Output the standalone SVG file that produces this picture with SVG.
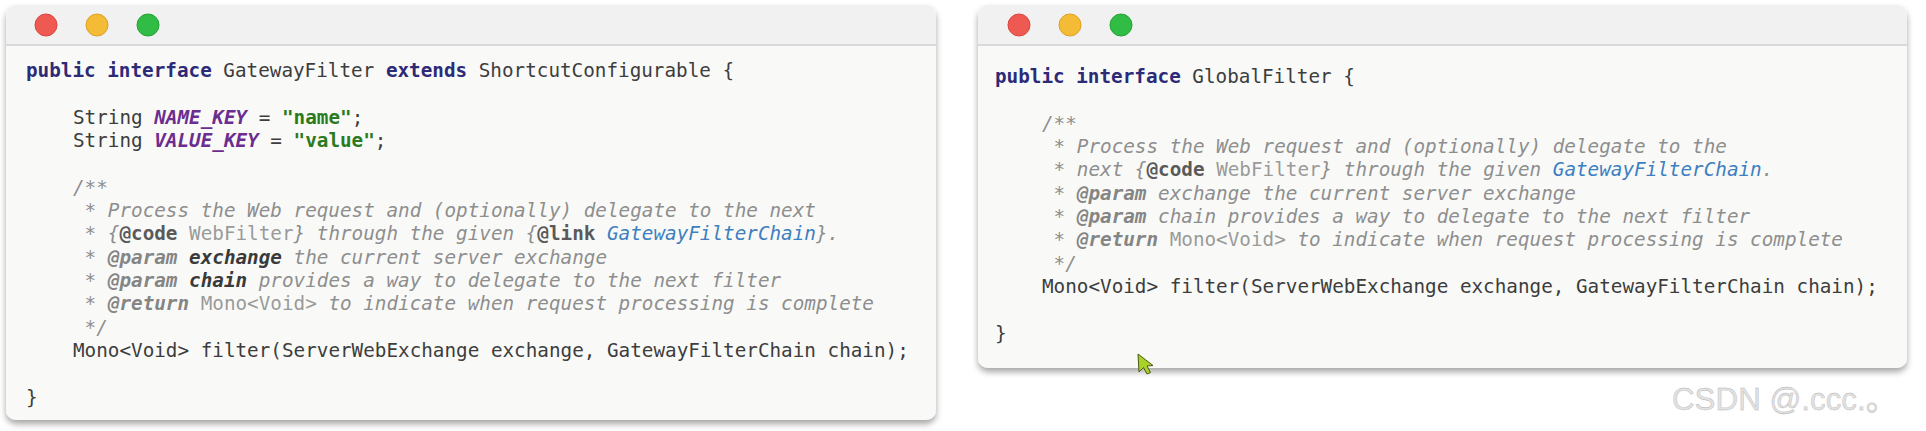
<svg xmlns="http://www.w3.org/2000/svg" width="1926" height="431" viewBox="0 0 1926 431" xml:space="preserve">
<defs>
<style>
.code{font-family:"DejaVu Sans Mono","Liberation Mono",monospace;font-size:19.3px;fill:#3d3d3d;white-space:pre}
.kw{fill:#2d2a78;font-weight:bold}
.cst{fill:#6b2d8f;font-weight:bold;font-style:italic}
.str{fill:#2c7a1e;font-weight:bold}
.cm{fill:#8e8e8e;font-style:italic}
.tag{font-weight:bold;fill:#858585}
.tagd{font-weight:bold;fill:#5a5a5a;font-style:normal}
.pb{font-weight:bold;fill:#3a3a3a}
.up{font-style:normal;fill:#9a9a9a}
.lnk{fill:#3d7fc0}
.body{fill:#f9faf8}
.bar{fill:#f1f1f1}
.sep{stroke:#d9d9d9;stroke-width:2}
.red{fill:#ee5a52;stroke:#d9463f;stroke-width:1}
.yel{fill:#f4bb36;stroke:#dba22a;stroke-width:1}
.grn{fill:#31bd45;stroke:#22a236;stroke-width:1}
.wm{font-family:"Liberation Sans",Arial,"Noto Sans CJK SC",sans-serif;font-size:32px;fill:#e2e2e2;stroke:#b4b4b4;stroke-width:0.4}
</style>
<filter id="sh" x="-5%" y="-10%" width="110%" height="125%">
<feDropShadow dx="0" dy="4" stdDeviation="3" flood-color="#000" flood-opacity="0.35"/>
</filter>
<clipPath id="cl"><rect x="6" y="5" width="930" height="415" rx="10"/></clipPath>
<clipPath id="cr"><rect x="978" y="5" width="929" height="363" rx="10"/></clipPath>
</defs>
<rect width="1926" height="431" fill="#ffffff"/>
<g id="gateway-filter-window">
<rect x="6" y="5" width="930" height="415" rx="10" class="body" filter="url(#sh)"/>
<rect x="6" y="5" width="930" height="40" class="bar" clip-path="url(#cl)"/>
<line x1="6" y1="45" x2="936" y2="45" class="sep"/>
<circle cx="46" cy="25" r="11" class="red"/>
<circle cx="97" cy="25" r="11" class="yel"/>
<circle cx="148" cy="25" r="11" class="grn"/>
<text class="code" x="26" y="77"><tspan class="kw">public</tspan> <tspan class="kw">interface</tspan> GatewayFilter <tspan class="kw">extends</tspan> ShortcutConfigurable {</text>
<text class="code" x="73" y="124">String <tspan class="cst">NAME_KEY</tspan> = <tspan class="str">"name"</tspan>;</text>
<text class="code" x="73" y="147">String <tspan class="cst">VALUE_KEY</tspan> = <tspan class="str">"value"</tspan>;</text>
<text class="code cm" x="73" y="194">/**</text>
<text class="code cm" x="84.6" y="217">* Process the Web request and (optionally) delegate to the next</text>
<text class="code cm" x="84.6" y="240">* {<tspan class="tagd">@code</tspan> <tspan class="up">WebFilter</tspan>} through the given {<tspan class="tagd">@link</tspan> <tspan class="lnk">GatewayFilterChain</tspan>}.</text>
<text class="code cm" x="84.6" y="264">* <tspan class="tag">@param</tspan> <tspan class="pb">exchange</tspan> the current server exchange</text>
<text class="code cm" x="84.6" y="287">* <tspan class="tag">@param</tspan> <tspan class="pb">chain</tspan> provides a way to delegate to the next filter</text>
<text class="code cm" x="84.6" y="310">* <tspan class="tag">@return</tspan> <tspan class="up">Mono&lt;Void&gt;</tspan> to indicate when request processing is complete</text>
<text class="code cm" x="84.6" y="334">*/</text>
<text class="code" x="73" y="357">Mono&lt;Void&gt; filter(ServerWebExchange exchange, GatewayFilterChain chain);</text>
<text class="code" x="26" y="404">}</text>
</g>
<g id="global-filter-window">
<rect x="978" y="5" width="929" height="363" rx="10" class="body" filter="url(#sh)"/>
<rect x="978" y="5" width="929" height="40" class="bar" clip-path="url(#cr)"/>
<line x1="978" y1="45" x2="1907" y2="45" class="sep"/>
<circle cx="1019" cy="25" r="11" class="red"/>
<circle cx="1070" cy="25" r="11" class="yel"/>
<circle cx="1121" cy="25" r="11" class="grn"/>
<text class="code" x="995" y="83"><tspan class="kw">public</tspan> <tspan class="kw">interface</tspan> GlobalFilter {</text>
<text class="code cm" x="1042" y="130">/**</text>
<text class="code cm" x="1053.6" y="153">* Process the Web request and (optionally) delegate to the</text>
<text class="code cm" x="1053.6" y="176">* next {<tspan class="tagd">@code</tspan> <tspan class="up">WebFilter</tspan>} through the given <tspan class="lnk">GatewayFilterChain</tspan>.</text>
<text class="code cm" x="1053.6" y="200">* <tspan class="tag">@param</tspan> exchange the current server exchange</text>
<text class="code cm" x="1053.6" y="223">* <tspan class="tag">@param</tspan> chain provides a way to delegate to the next filter</text>
<text class="code cm" x="1053.6" y="246">* <tspan class="tag">@return</tspan> <tspan class="up">Mono&lt;Void&gt;</tspan> to indicate when request processing is complete</text>
<text class="code cm" x="1053.6" y="270">*/</text>
<text class="code" x="1042" y="293">Mono&lt;Void&gt; filter(ServerWebExchange exchange, GatewayFilterChain chain);</text>
<text class="code" x="995" y="340">}</text>
</g>
<g id="cursor">
<polygon points="1138,354 1139,372 1143.5,367.5 1147,374 1150.5,372.5 1147,366 1153,365.5" fill="#a9d12a" stroke="#4a5a10" stroke-width="1"/>
</g>
<text class="wm" x="1672" y="410" textLength="225" lengthAdjust="spacingAndGlyphs">CSDN @.ccc.。</text>
</svg>
